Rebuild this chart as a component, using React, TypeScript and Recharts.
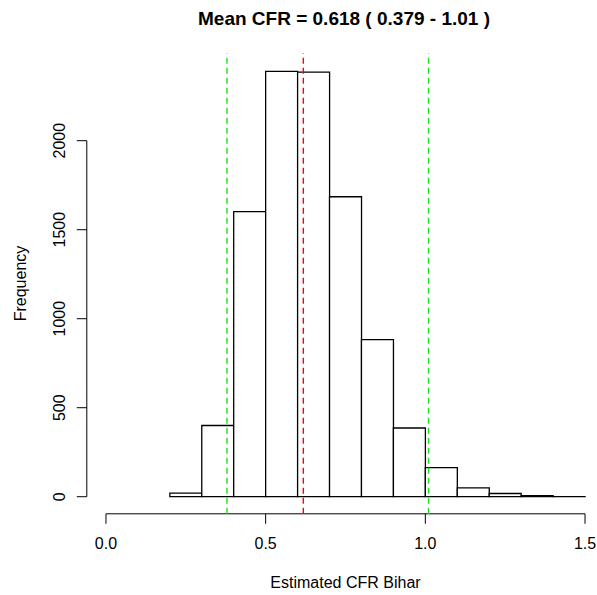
import React from 'react';
import { ComposedChart, Bar, XAxis, YAxis, ReferenceLine } from 'recharts';

const binMids = [0.25, 0.35, 0.45, 0.55, 0.65, 0.75, 0.85, 0.95, 1.05, 1.15, 1.25, 1.35, 1.45];
const counts = [20, 400, 1602, 2390, 2385, 1685, 882, 386, 163, 50, 18, 6, 1];
const xTicks = [0, 0.5, 1.0, 1.5];
const yTicks = [0, 500, 1000, 1500, 2000];
const meanCFR = 0.618;
const lowerCFR = 0.379;
const upperCFR = 1.01;
const titleText = 'Mean CFR = 0.618 ( 0.379 - 1.01 )';
const xLabel = 'Estimated CFR Bihar';
const yLabel = 'Frequency';

const data = binMids.map((m, i) => ({ mid: m, count: counts[i] }));

const FONT = '"Liberation Sans", Arial, sans-serif';

const XTick = (props: any) => {
  const { x, payload } = props;
  return (
    <text x={x} y={549} textAnchor="middle" fontSize={16} fontFamily={FONT} fill="#000">
      {Number(payload.value).toFixed(1)}
    </text>
  );
};

const YTick = (props: any) => {
  const { y, payload } = props;
  return (
    <text
      x={65.5}
      y={y}
      textAnchor="middle"
      fontSize={16}
      fontFamily={FONT}
      fill="#000"
      transform={`rotate(-90, 65.5, ${y})`}
    >
      {payload.value}
    </text>
  );
};

export default function App() {
  return (
    <div style={{ position: 'absolute', left: 0, top: 0, width: 597, height: 595, background: '#fff' }}>
      <ComposedChart
        width={597}
        height={595}
        data={data}
        margin={{ top: 53.3, right: 2.4, left: 6.8, bottom: 0 }}
        barCategoryGap={0}
        barGap={0}
      >
        <XAxis
          dataKey="mid"
          type="number"
          domain={[-0.06, 1.53]}
          allowDataOverflow
          ticks={xTicks}
          interval={0}
          height={81.2}
          axisLine={false}
          tickSize={10}
          tickLine={{ stroke: '#000', strokeWidth: 1 }}
          tick={<XTick />}
          label={{
            content: () => (
              <text x={345.5} y={588} textAnchor="middle" fontSize={16} fontFamily={FONT} fill="#000">
                {xLabel}
              </text>
            ),
          }}
        />
        <YAxis
          type="number"
          domain={[-96, 2491]}
          allowDataOverflow
          ticks={yTicks}
          interval={0}
          width={80}
          axisLine={false}
          tickSize={10}
          tickLine={{ stroke: '#000', strokeWidth: 1 }}
          tick={<YTick />}
          label={{
            content: () => (
              <text
                x={25.5}
                y={283.5}
                textAnchor="middle"
                fontSize={16}
                fontFamily={FONT}
                fill="#000"
                transform="rotate(-90, 25.5, 283.5)"
              >
                {yLabel}
              </text>
            ),
          }}
        />
        <Bar
          dataKey="count"
          fill="#fff"
          stroke="#000"
          strokeWidth={1.3}
          isAnimationActive={false}
        />
        <ReferenceLine
          segment={[{ x: 0, y: -96 }, { x: 1.5, y: -96 }]}
          stroke="#000"
          strokeWidth={1}
          ifOverflow="visible"
        />
        <ReferenceLine
          segment={[{ x: -0.06, y: 0 }, { x: -0.06, y: 2000 }]}
          stroke="#000"
          strokeWidth={1}
          ifOverflow="visible"
        />
        <ReferenceLine x={lowerCFR} stroke="#1ee01e" strokeWidth={1.4} strokeDasharray="6 4" ifOverflow="visible" />
        <ReferenceLine x={upperCFR} stroke="#1ee01e" strokeWidth={1.4} strokeDasharray="6 4" ifOverflow="visible" />
        <ReferenceLine x={meanCFR} stroke="#ff0000" strokeWidth={1.4} strokeDasharray="6 4" ifOverflow="visible" />
      </ComposedChart>
      <svg
        width={597}
        height={40}
        style={{ position: 'absolute', left: 0, top: 0, pointerEvents: 'none' }}
      >
        <text x={344} y={25} textAnchor="middle" fontSize={19} fontWeight="bold" fontFamily={FONT} fill="#000">
          {titleText}
        </text>
      </svg>
    </div>
  );
}
